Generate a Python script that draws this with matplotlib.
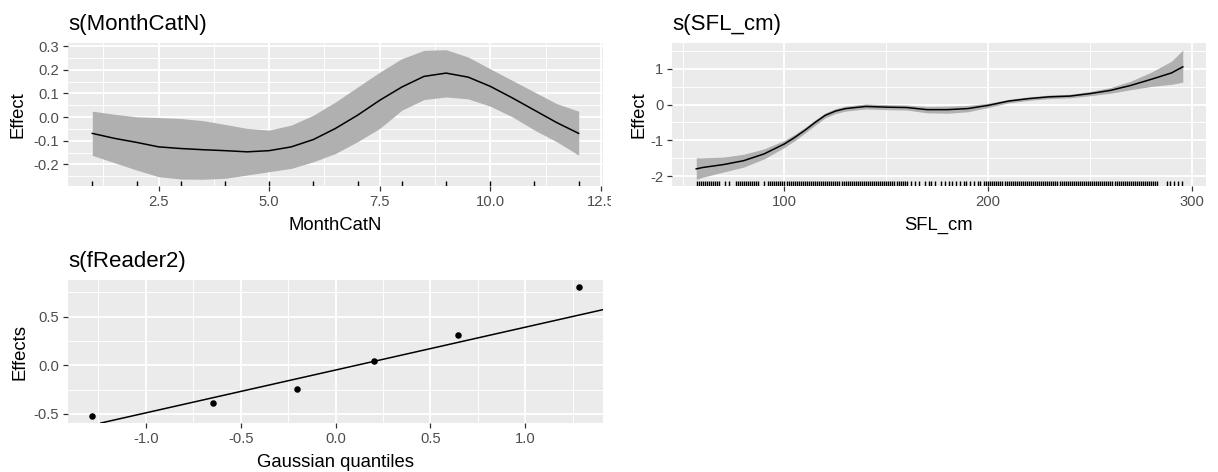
import matplotlib
matplotlib.use("Agg")
import matplotlib.pyplot as plt
from matplotlib.transforms import Bbox, TransformedBbox, blended_transform_factory

plt.rcParams["font.family"] = ["Liberation Sans", "DejaVu Sans"]
plt.rcParams["axes.unicode_minus"] = False

# ---------------- data ----------------
# s(MonthCatN)
month_x = [1, 1.5, 2, 2.5, 3, 3.5, 4, 4.5, 5, 5.5, 6, 6.5, 7, 7.5, 8, 8.5, 9, 9.5, 10, 10.5, 11, 11.5, 12]
month_fit = [-0.069, -0.090, -0.107, -0.126, -0.133, -0.138, -0.142, -0.147, -0.142, -0.126, -0.095, -0.048,
             0.008, 0.071, 0.127, 0.172, 0.186, 0.169, 0.130, 0.081, 0.029, -0.023, -0.069]
month_lo = [-0.162, -0.193, -0.224, -0.252, -0.262, -0.263, -0.259, -0.245, -0.231, -0.217, -0.189, -0.154,
            -0.104, -0.048, 0.029, 0.074, 0.085, 0.077, 0.046, 0.001, -0.055, -0.104, -0.161]
month_hi = [0.025, 0.012, 0.001, -0.002, -0.006, -0.015, -0.031, -0.048, -0.055, -0.034, 0.008, 0.064,
            0.127, 0.190, 0.247, 0.282, 0.285, 0.254, 0.204, 0.155, 0.106, 0.057, 0.025]
month_rug = [1, 2, 3, 4, 5, 6, 7, 8, 9, 10, 11, 12]

# s(SFL_cm)
sfl_x = [56.7, 60, 70, 80, 90, 100, 105, 110, 115, 120, 125, 130, 140, 150, 160, 170, 180, 190, 200, 210,
         220, 230, 240, 250, 260, 270, 280, 290, 295.5]
sfl_fit = [-1.80, -1.76, -1.68, -1.57, -1.38, -1.10, -0.92, -0.72, -0.50, -0.30, -0.18, -0.11, -0.05, -0.07,
           -0.08, -0.14, -0.14, -0.11, -0.02, 0.10, 0.17, 0.22, 0.24, 0.31, 0.40, 0.54, 0.71, 0.89, 1.06]
sfl_lo = [-2.10, -2.03, -1.89, -1.75, -1.52, -1.20, -1.01, -0.80, -0.58, -0.37, -0.25, -0.18, -0.12, -0.14,
          -0.15, -0.23, -0.24, -0.20, -0.08, 0.05, 0.12, 0.17, 0.19, 0.25, 0.32, 0.42, 0.51, 0.57, 0.63]
sfl_hi = [-1.49, -1.49, -1.47, -1.39, -1.24, -1.00, -0.83, -0.64, -0.43, -0.23, -0.11, -0.04, 0.02, 0.00,
          -0.01, -0.05, -0.04, -0.02, 0.04, 0.15, 0.22, 0.27, 0.29, 0.37, 0.48, 0.66, 0.91, 1.22, 1.53]
sfl_rug = [57, 58, 59, 60, 61, 62, 63, 64, 65, 66, 67, 68, 71, 73,
           76, 77, 78, 79, 80, 81, 82, 83, 84, 85, 86, 87, 90,
           92, 93, 94, 95, 96, 97, 98, 99, 100, 101, 102, 103, 104, 105, 106, 107, 108, 109, 110,
           111, 112, 113, 114, 115, 116, 117, 118, 119, 120, 121, 122, 123, 124, 125, 126, 127, 128,
           129, 130, 131, 132, 133, 134, 135, 136, 137, 138, 139, 140, 141, 142, 143, 144, 145, 146,
           147, 148, 149, 150, 151, 152, 153, 154, 155, 156, 157, 158, 159, 160,
           162, 164, 166, 169, 171, 172, 174, 177, 179, 181, 182, 184, 186, 188, 189, 191, 193, 195, 196,
           198, 199, 200, 201, 202, 203, 204, 205, 206, 207, 208, 209, 210, 211, 212, 213, 214, 215, 216,
           217, 218, 219, 220, 221, 222, 223, 224, 225, 226, 227, 228, 229, 230, 231, 232, 233, 234, 235,
           236, 237, 238, 239, 240, 241, 242, 243, 244, 245, 246, 247, 248, 249, 250, 251, 252, 253, 254,
           255, 256, 257, 258, 259, 260, 261, 262, 263, 264, 265, 266, 267, 268, 269, 270, 271, 272, 273,
           274, 275, 276, 277, 278, 279, 280, 281, 282, 283,
           288, 289, 291, 293, 295]

# s(fReader2)
reader_q = [-1.2816, -0.6433, -0.2019, 0.2019, 0.6433, 1.2816]
reader_eff = [-0.527, -0.384, -0.247, 0.038, 0.315, 0.808]
qq_intercept = -0.05
qq_slope = 0.44

# ---------------- figure ----------------
W, H = 1218, 472
fig = plt.figure(figsize=(W / 100, H / 100), dpi=100)

BG = "#EBEBEB"
BAND = "#B0B0B0"
TICKC = "#333333"
LABC = "#4D4D4D"
FS_TITLE = 16
FS_AXT = 13.3
FS_TICK = 10.6


def add_ax(l, r, t, b):
    return fig.add_axes([l / W, 1 - b / H, (r - l) / W, (b - t) / H])


def style(ax, xmaj, xmin, ymaj, ymin, xlim, ylim, xfmt, yfmt):
    ax.set_facecolor(BG)
    for s in ax.spines.values():
        s.set_visible(False)
    ax.set_xlim(*xlim)
    ax.set_ylim(*ylim)
    ax.set_xticks(xmaj)
    ax.set_xticks(xmin, minor=True)
    ax.set_yticks(ymaj)
    ax.set_yticks(ymin, minor=True)
    ax.set_xticklabels([xfmt(v) for v in xmaj])
    ax.set_yticklabels([yfmt(v) for v in ymaj])
    ax.grid(which="major", color="white", lw=1.3)
    ax.grid(which="minor", color="white", lw=0.65)
    ax.set_axisbelow(True)
    ax.tick_params(which="major", direction="out", length=3.3, width=0.9, color=TICKC,
                   labelsize=FS_TICK, labelcolor=LABC)
    ax.tick_params(axis="x", which="major", pad=3)
    ax.tick_params(axis="y", which="major", pad=3)
    ax.tick_params(which="minor", length=0)


def labels(ax, title, xlabel, ylabel, title_x_px, title_base_px, ylab_off_px, xlab_off_px):
    fig.text(title_x_px / W, 1 - title_base_px / H, title, fontsize=FS_TITLE, ha="left", va="baseline")
    ax.set_xlabel(xlabel, fontsize=FS_AXT, va="baseline")
    ax.set_ylabel(ylabel, fontsize=FS_AXT, va="center")
    bb = ax.get_position()
    hpx = bb.height * H
    wpx = bb.width * W
    ax.xaxis.set_label_coords(0.5, -xlab_off_px / hpx)
    ax.yaxis.set_label_coords(-ylab_off_px / wpx, 0.5)


f1 = lambda v: f"{v:.1f}"
fi = lambda v: f"{v:g}"

# Panel 1 : s(MonthCatN)
ax1 = add_ax(68, 603, 43.3, 186)
style(ax1, [2.5, 5.0, 7.5, 10.0, 12.5], [1.25, 3.75, 6.25, 8.75, 11.25],
      [-0.2, -0.1, 0.0, 0.1, 0.2, 0.3], [-0.25, -0.15, -0.05, 0.05, 0.15, 0.25],
      (0.45, 12.55), (-0.2915, 0.312), f1, f1)
ax1.fill_between(month_x, month_lo, month_hi, color=BAND, lw=0)
ax1.plot(month_x, month_fit, color="black", lw=1.1)
tr1 = blended_transform_factory(ax1.transData, ax1.transAxes)
ax1.vlines(month_rug, 0, 0.035, transform=tr1, colors="black", lw=1.0)
labels(ax1, "s(MonthCatN)", "MonthCatN", "Effect", 68, 30, 50, 44)
clip = TransformedBbox(Bbox([[0, 0], [611 / W, 1]]), fig.transFigure)
for lab in ax1.get_xticklabels():
    lab.set_clip_box(clip)
    lab.set_clip_on(True)

# Panel 2 : s(SFL_cm)
ax2 = add_ax(672, 1206, 43.3, 186)
style(ax2, [100, 200, 300], [50, 150, 250], [-2, -1, 0, 1], [-1.5, -0.5, 0.5, 1.5],
      (44.8, 306.9), (-2.28, 1.72), fi, fi)
ax2.fill_between(sfl_x, sfl_lo, sfl_hi, color=BAND, lw=0)
ax2.plot(sfl_x, sfl_fit, color="black", lw=1.1)
tr2 = blended_transform_factory(ax2.transData, ax2.transAxes)
ax2.vlines(sfl_rug, 0, 0.035, transform=tr2, colors="black", lw=1.0)
labels(ax2, "s(SFL_cm)", "SFL_cm", "Effect", 672, 30, 33, 44)

# Panel 3 : s(fReader2)
ax3 = add_ax(68, 603, 280, 423)
style(ax3, [-1.0, -0.5, 0.0, 0.5, 1.0], [-1.25, -0.75, -0.25, 0.25, 0.75, 1.25],
      [-0.5, 0.0, 0.5], [-0.25, 0.25, 0.75],
      (-1.41, 1.41), (-0.594, 0.875), f1, f1)
ax3.axline((0, qq_intercept), slope=qq_slope, color="black", lw=1.1)
ax3.scatter(reader_q, reader_eff, s=22, color="black", zorder=3, lw=0)
labels(ax3, "s(fReader2)", "Gaussian quantiles", "Effects", 68, 267, 48.5, 44)

fig.savefig("out.png", dpi=100)
